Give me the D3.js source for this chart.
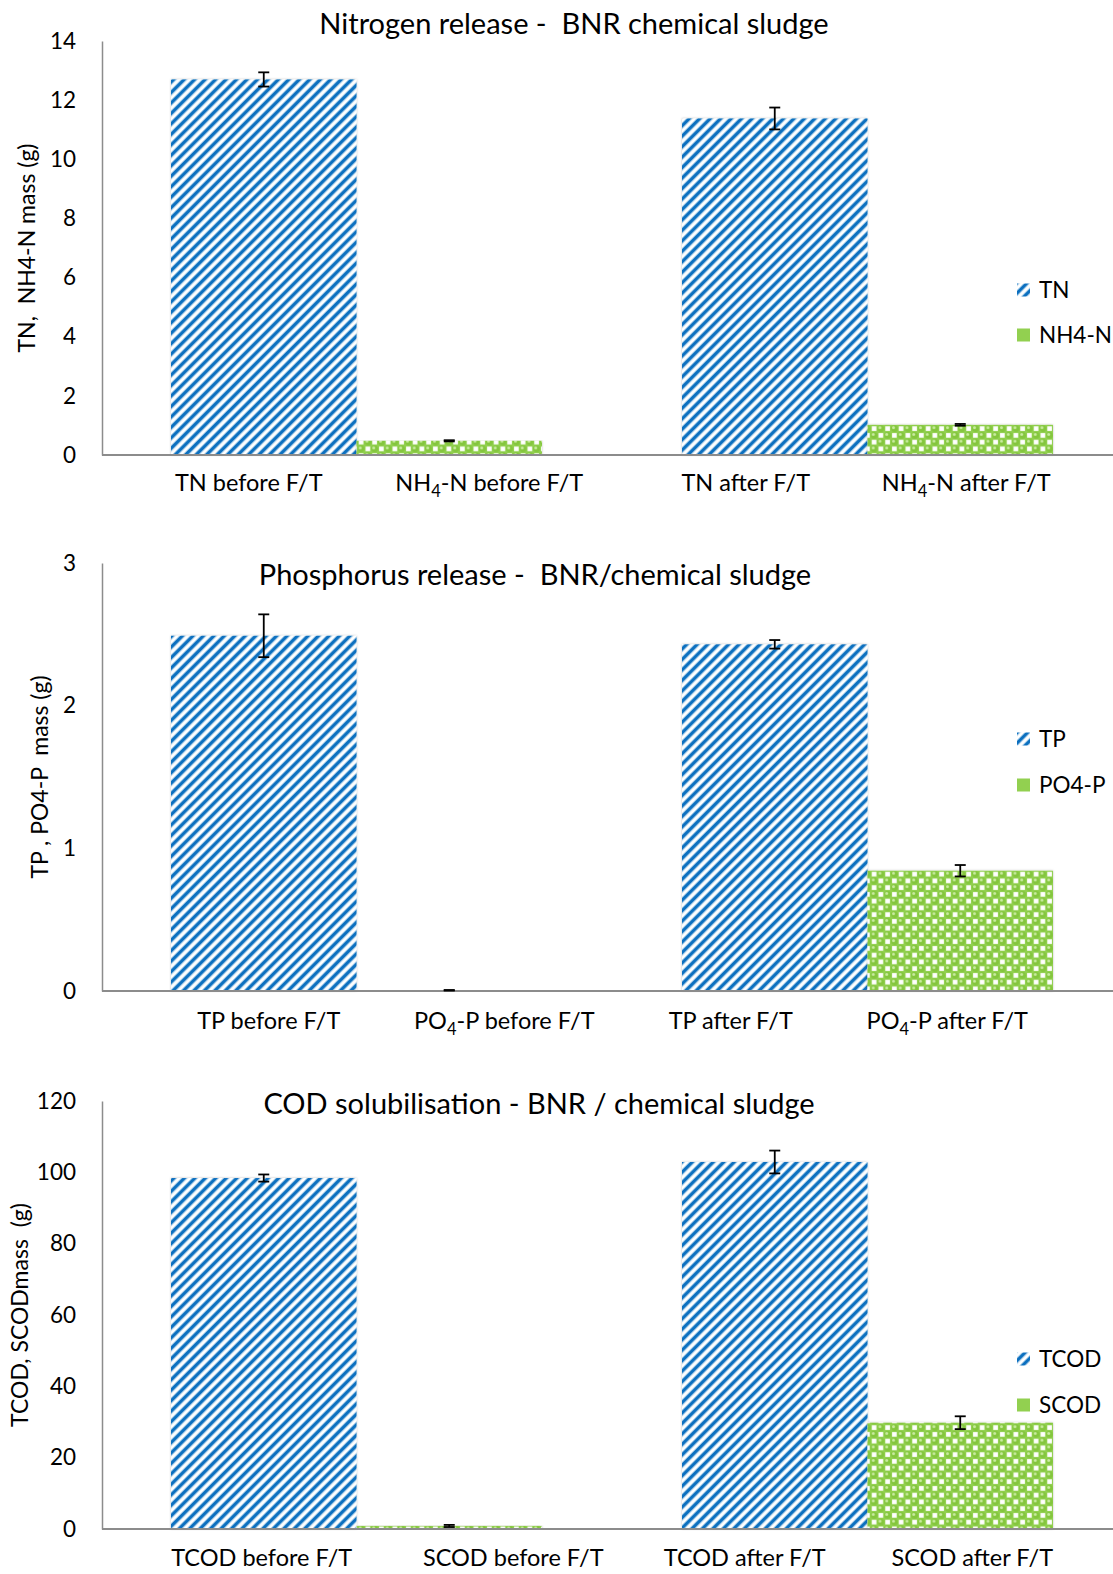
<!DOCTYPE html>
<html>
<head>
<meta charset="utf-8">
<script src="https://cdn.jsdelivr.net/npm/d3@7"></script>
<style>
  body { margin: 0; background: #fff; }
  text { font-family: Lato, "Open Sans", sans-serif; fill: #000; white-space: pre; }
</style>
</head>
<body>
<svg id="fig" width="1113" height="1574"></svg>
<script>
// ---- data ----
const periods = ["before F/T", "after F/T"];

// Nitrogen release
const nitrogenSeries = ["TN", "NH4-N"];
const tnMass = [12.7, 11.38];
const tnErr = [0.24, 0.37];
const nh4Mass = [0.48, 1.02];
const nh4Err = [0.02, 0.03];
const nitrogenTicks = [0, 2, 4, 6, 8, 10, 12, 14];
const nitrogenLabels = [["TN before F/T"], ["NH", "4", "-N before F/T"], ["TN after F/T"], ["NH", "4", "-N after F/T"]];

// Phosphorus release
const phosphorusSeries = ["TP", "PO4-P"];
const tpMass = [2.49, 2.43];
const tpErr = [0.15, 0.03];
const po4Mass = [0.005, 0.843];
const po4Err = [0.002, 0.04];
const phosphorusTicks = [0, 1, 2, 3];
const phosphorusLabels = [["TP before F/T"], ["PO", "4", "-P before F/T"], ["TP after F/T"], ["PO", "4", "-P after F/T"]];

// COD solubilisation
const codSeries = ["TCOD", "SCOD"];
const tcodMass = [98.4, 102.9];
const tcodErr = [1.0, 3.2];
const scodMass = [0.85, 29.8];
const scodErr = [0.3, 1.8];
const codTicks = [0, 20, 40, 60, 80, 100, 120];
const codLabels = [["TCOD before F/T"], ["SCOD before F/T"], ["TCOD after F/T"], ["SCOD after F/T"]];

// ---- panel layout ----
const panels = [
  {
    title: "Nitrogen release -  BNR chemical sludge", titleX: 574, titleY: 24,
    yLabel: "TN,  NH4-N mass (g)", yLabelX: 27,
    ticks: nitrogenTicks, yBottom: 455, yTop: 41,
    series: nitrogenSeries, values: [tnMass, nh4Mass], errors: [tnErr, nh4Err],
    labels: nitrogenLabels, labelShift: [-15, 40, -29, 6], labelY: 483,
    legendY: [290, 335]
  },
  {
    title: "Phosphorus release -  BNR/chemical sludge", titleX: 535, titleY: 575,
    yLabel: "TP , PO4-P  mass (g)", yLabelX: 40,
    ticks: phosphorusTicks, yBottom: 991, yTop: 563,
    series: phosphorusSeries, values: [tpMass, po4Mass], errors: [tpErr, po4Err],
    labels: phosphorusLabels, labelShift: [5, 55, -44, -13], labelY: 1021,
    legendY: [739, 785]
  },
  {
    title: "COD solubilisation - BNR / chemical sludge", titleX: 539, titleY: 1104,
    yLabel: "TCOD, SCODmass  (g)", yLabelX: 20,
    ticks: codTicks, yBottom: 1529, yTop: 1101,
    series: codSeries, values: [tcodMass, scodMass], errors: [tcodErr, scodErr],
    labels: codLabels, labelShift: [-2, 64, -30, 12], labelY: 1558,
    legendY: [1359, 1405]
  }
];

const svg = d3.select("#fig");
const defs = svg.append("defs");

// wide upward diagonal stripes
const P = 7.4;
const stripes = defs.append("pattern")
  .attr("id", "stripes").attr("patternUnits", "userSpaceOnUse")
  .attr("width", P).attr("height", P)
  .attr("patternTransform", "rotate(45)");
stripes.append("rect").attr("width", P).attr("height", P).attr("fill", "#fff");
stripes.append("rect").attr("x", 0).attr("width", 3.1).attr("height", P).attr("fill", "#0b6fbf");
stripes.append("rect").attr("x", 3.1).attr("width", 0.7).attr("height", P).attr("fill", "#86b9e0");
stripes.append("rect").attr("x", P - 0.7).attr("width", 0.7).attr("height", P).attr("fill", "#86b9e0");

// green sphere pattern: spheres on a checker with white gaps
const S = 13.5;
const spheres = defs.append("pattern")
  .attr("id", "spheres").attr("patternUnits", "userSpaceOnUse")
  .attr("width", S).attr("height", S);
spheres.append("rect").attr("width", S).attr("height", S).attr("fill", "#92d050");
[[S * 0.25, S * 0.25], [S * 0.75, S * 0.75]].forEach(([cx, cy]) => {
  spheres.append("rect").attr("x", cx - 2.3).attr("y", cy - 2.3).attr("width", 4.6).attr("height", 4.6)
    .attr("fill", "#fff");
});
[[S * 0.75, S * 0.25], [S * 0.25, S * 0.75]].forEach(([cx, cy]) => {
  spheres.append("circle").attr("cx", cx).attr("cy", cy).attr("r", 3.4).attr("fill", "#84c63e");
  spheres.append("circle").attr("cx", cx - 0.9).attr("cy", cy - 0.9).attr("r", 1.5).attr("fill", "#c9ec9f");
});

const shadow = defs.append("filter").attr("id", "barShadow")
  .attr("x", "-5%").attr("y", "-5%").attr("width", "110%").attr("height", "110%");
shadow.append("feDropShadow").attr("dx", 0).attr("dy", 0).attr("stdDeviation", 1.2)
  .attr("flood-color", "#000").attr("flood-opacity", 0.25);

const fills = ["url(#stripes)", "url(#spheres)"];
const axisColor = "#8c8c8c";
const axisX = 102;

function labelText(sel, parts) {
  sel.append("tspan").text(parts[0]);
  if (parts.length > 1) {
    sel.append("tspan").attr("font-size", "0.7em").attr("dy", 6).text(parts[1]);
    sel.append("tspan").attr("dy", -6).text(parts[2]);
  }
}

panels.forEach(p => {
  const g = svg.append("g");
  const yMax = p.ticks[p.ticks.length - 1];
  const y = d3.scaleLinear().domain([0, yMax]).range([p.yBottom, p.yTop]);
  const x = d3.scaleBand().domain(periods).range([101, 1123])
    .paddingInner(0.274).paddingOuter(0.137);
  const xs = d3.scaleBand().domain(d3.range(p.series.length)).range([0, x.bandwidth()]);

  // y axis
  const yAxis = d3.axisLeft(y).tickValues(p.ticks).tickSize(0).tickPadding(26)
    .tickFormat(d3.format("d"));
  const ya = g.append("g").attr("transform", `translate(${axisX},0)`).call(yAxis);
  ya.select(".domain").attr("stroke", axisColor).attr("stroke-width", 1.5);
  ya.selectAll(".tick text").attr("font-size", 22.5).attr("fill", "#000")
    .style("font-family", "Lato, 'Open Sans', sans-serif");

  // bars
  p.series.forEach((s, i) => {
    g.append("g").selectAll("rect").data(periods).join("rect")
      .attr("x", d => x(d) + xs(i))
      .attr("y", (d, j) => y(p.values[i][j]))
      .attr("width", xs.bandwidth())
      .attr("height", (d, j) => y(0) - y(p.values[i][j]))
      .attr("fill", fills[i])
      .attr("filter", "url(#barShadow)");
  });

  // x axis line
  g.append("line").attr("x1", axisX).attr("x2", 1113)
    .attr("y1", y(0)).attr("y2", y(0))
    .attr("stroke", axisColor).attr("stroke-width", 1.8);

  // error bars
  p.series.forEach((s, i) => {
    periods.forEach((d, j) => {
      const cx = x(d) + xs(i) + xs.bandwidth() / 2;
      const v = p.values[i][j], e = p.errors[i][j];
      const eg = g.append("g").attr("stroke", "#000").attr("stroke-width", 1.8);
      eg.append("line").attr("x1", cx).attr("x2", cx).attr("y1", y(v - e)).attr("y2", y(v + e));
      [v - e, v + e].forEach(w => {
        eg.append("line").attr("x1", cx - 5.5).attr("x2", cx + 5.5).attr("y1", y(w)).attr("y2", y(w));
      });
    });
  });

  // category labels
  const slots = [];
  periods.forEach(d => p.series.forEach((s, i) => slots.push(x(d) + xs(i) + xs.bandwidth() / 2)));
  p.labels.forEach((parts, k) => {
    const t = g.append("text").attr("x", slots[k] + p.labelShift[k]).attr("y", p.labelY)
      .attr("dy", "0.35em").attr("text-anchor", "middle").attr("font-size", 23.5);
    labelText(t, parts);
  });

  // title
  g.append("text").attr("x", p.titleX).attr("y", p.titleY).attr("dy", "0.35em")
    .attr("text-anchor", "middle").attr("font-size", 29).text(p.title);

  // y axis title
  g.append("text")
    .attr("transform", `translate(${p.yLabelX},${(p.yTop + p.yBottom) / 2}) rotate(-90)`)
    .attr("dy", "0.35em").attr("text-anchor", "middle").attr("font-size", 23).text(p.yLabel);

  // legend
  p.series.forEach((s, i) => {
    const ly = p.legendY[i];
    g.append("rect").attr("x", 1017).attr("y", ly - 6.5).attr("width", 13).attr("height", 13)
      .attr("fill", i === 0 ? fills[0] : "#92d050");
    g.append("text").attr("x", 1039).attr("y", ly).attr("dy", "0.35em")
      .attr("font-size", 22.5).text(s);
  });
});
</script>
</body>
</html>
